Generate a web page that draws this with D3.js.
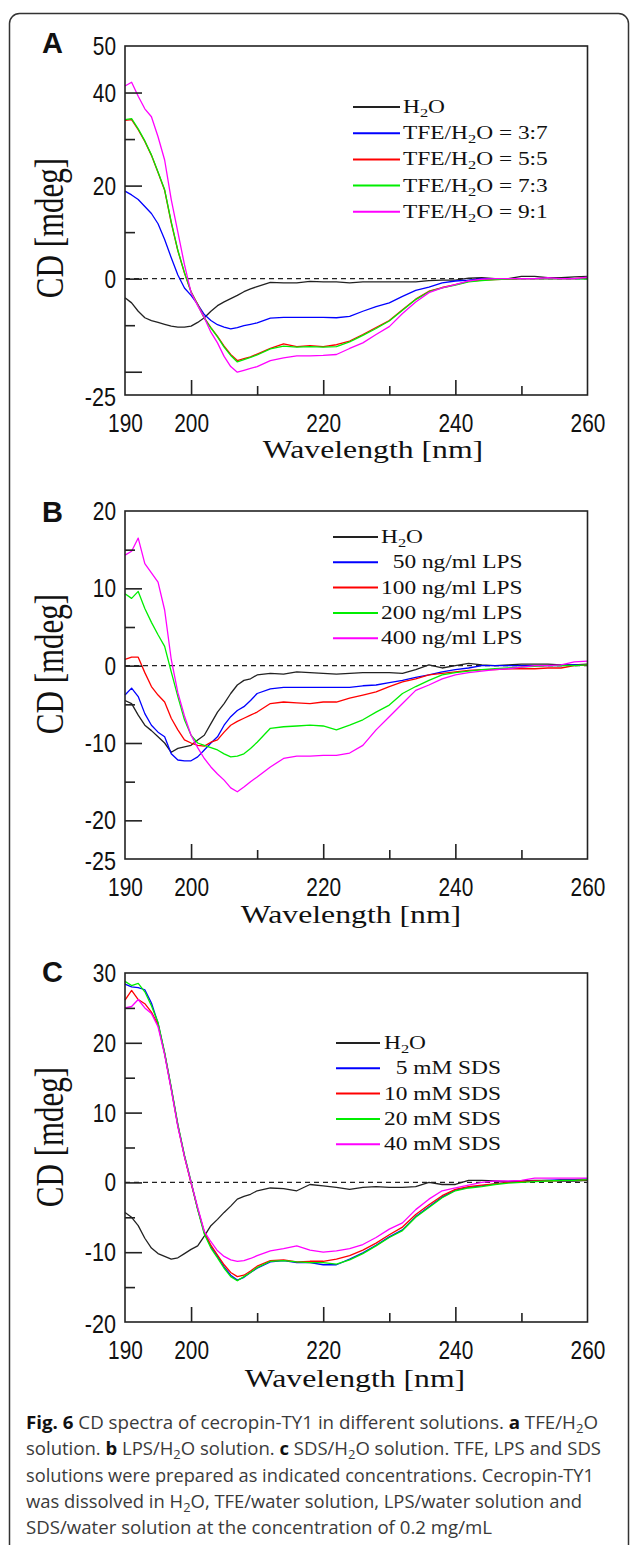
<!DOCTYPE html>
<html>
<head>
<meta charset="utf-8">
<script src="https://cdn.jsdelivr.net/npm/d3@7"></script>
<style>
  body { margin: 0; background: #fff; }
  svg { display: block; }
  .tick-label { font-family: 'Liberation Sans Narrow', 'Arial Narrow', 'Liberation Sans', sans-serif; font-size: 25px; fill: #111; }
  .serif { font-family: 'Liberation Serif', 'Times New Roman', serif; fill: #111; white-space: pre; }
  .letter { font-family: 'Liberation Sans', Arial, sans-serif; font-size: 29px; font-weight: bold; fill: #111; }
  .caption { font-family: 'Open Sans', 'Noto Sans', sans-serif; font-size: 18.4px; fill: #3a3a3a; white-space: pre; }
</style>
</head>
<body>
<script>
// Wavelength grid (nm), shared by all spectra
const wavelengths = [190, 191, 192, 193, 194, 195, 196, 197, 198, 199, 200, 201, 202, 203, 204, 205, 206, 207, 208, 209, 210,
  212, 214, 216, 218, 220, 222, 224, 226, 228, 230, 232, 234, 236, 238, 240, 242, 244, 246, 248, 250, 252, 254, 256, 258, 260];

// Panel A: TFE/H2O (mdeg)
const aH2O = [-4.1, -5.2, -7, -8.4, -9, -9.4, -9.8, -10.2, -10.4, -10.4, -10.2, -9.4, -8.4, -7, -5.8, -5, -4.3, -3.6, -2.8, -2.2, -1.7,
  -0.8, -0.9, -0.9, -0.6, -0.7, -0.7, -0.9, -0.7, -0.7, -0.7, -0.7, -0.7, -0.4, -0.3, -0.3, 0.1, 0.2, 0, 0, 0.5, 0.5, 0.2, 0.2, 0.4, 0.5];
const aTFE37 = [18.8, 18, 17, 15.5, 14, 11.8, 8.4, 4.5, 0.8, -2, -3.6, -5.5, -7.7, -9, -9.9, -10.4, -10.8, -10.5, -10.1, -9.8, -9.5,
  -8.5, -8.3, -8.3, -8.3, -8.3, -8.4, -8.1, -7, -6, -5.2, -3.8, -2.5, -1.8, -0.9, -0.5, -0.3, 0, 0, 0, 0, 0, 0, 0, 0, 0];
const aTFE55 = [34, 34.2, 32, 29.5, 26.5, 22.8, 19, 12, 6, 1.2, -2.8, -5.5, -8.4, -10.5, -12.4, -14.5, -16.3, -17.6, -17.2, -16.8, -16.2,
  -15, -14, -14.6, -14.4, -14.6, -14.2, -13.4, -12, -10.5, -9, -6.7, -4.4, -2.7, -1.9, -1.3, -0.6, -0.3, -0.2, -0.1, 0, 0, 0, 0, 0, 0.2];
const aTFE73 = [34.2, 34.4, 32.2, 29.6, 26.6, 22.9, 19.1, 12.2, 6.1, 1.3, -2.9, -5.6, -8.5, -10.6, -12.5, -14.7, -16.5, -17.9, -17.4, -16.9, -16.4,
  -15.1, -14.5, -14.7, -14.6, -14.7, -14.6, -13.6, -12.2, -10.7, -9.1, -6.8, -4.5, -2.8, -2, -1.4, -0.7, -0.4, -0.2, -0.1, 0, 0, 0, 0, 0, -0.1];
const aTFE91 = [41.4, 42.2, 39.2, 36.5, 34.8, 30.5, 25.5, 17, 10, 3, -3, -5.8, -8.4, -11.5, -13.8, -16.7, -18.9, -20.1, -19.7, -19.3, -18.9,
  -17.6, -17, -16.6, -16.6, -16.5, -16.3, -15, -13.8, -12, -10.3, -7.5, -5, -3, -2, -1.3, -0.5, -0.1, 0, 0, 0, 0, 0.2, 0, 0, 0.3];

// Panel B: LPS/H2O (mdeg)
const bH2O = [-4.5, -4.9, -6.4, -7.7, -8.4, -9.2, -10, -11.2, -10.7, -10.5, -10.3, -9.6, -9, -7.5, -6, -4.9, -3.6, -2.5, -1.9, -1.7, -1.2,
  -1, -1.1, -0.8, -0.9, -1, -1.1, -1, -0.9, -0.9, -0.9, -1, -0.5, 0.1, -0.3, 0, 0.3, 0.1, 0, 0.1, 0.2, 0.2, 0.2, 0.1, 0.1, 0.2];
const bLPS50 = [-3.8, -2.9, -4, -6.2, -7.7, -8.6, -9.2, -11.4, -12.2, -12.3, -12.3, -11.8, -10.9, -10, -9.2, -7.7, -6.6, -5.8, -5.3, -4.5, -3.6,
  -3, -2.8, -2.8, -2.8, -2.8, -2.8, -2.8, -2.6, -2.5, -2.2, -1.9, -1.5, -1.2, -0.8, -0.5, -0.3, 0, 0, 0, 0, 0, 0, 0, 0.1, 0.1];
const bLPS100 = [0.8, 1.1, 1.1, -0.9, -2.7, -3.8, -4.7, -6.8, -8.3, -9.6, -10, -10.3, -10.4, -9.9, -9.6, -8.6, -7.7, -7.2, -6.8, -6.4, -6,
  -4.9, -4.7, -4.8, -4.9, -4.7, -4.7, -4.2, -3.8, -3.4, -2.7, -2.1, -1.7, -1.2, -1, -0.8, -0.6, -0.5, -0.5, -0.4, -0.4, -0.4, -0.3, -0.3, 0, 0.1];
const bLPS200 = [9.3, 8.7, 9.6, 7.4, 5.6, 4, 2.5, -0.8, -4, -7, -9, -10, -10.3, -10.6, -10.9, -11.4, -11.8, -11.7, -11.4, -10.7, -9.9,
  -8.1, -7.9, -7.8, -7.7, -7.8, -8.3, -7.7, -7, -6, -5.1, -3.6, -2.7, -1.9, -1.2, -0.9, -0.7, -0.5, -0.4, -0.3, -0.2, -0.1, 0, 0, 0, 0.1];
const bLPS400 = [14.3, 14.8, 16.5, 13.2, 12, 10.8, 7.2, 0.8, -3.5, -6.5, -9, -10.6, -12, -13.1, -14, -14.8, -15.8, -16.3, -15.7, -15, -14.4,
  -13.1, -12, -11.7, -11.7, -11.6, -11.6, -11.3, -10.3, -8.3, -6.6, -4.9, -3.2, -2.5, -1.7, -1.2, -0.9, -0.7, -0.5, -0.4, -0.2, 0, 0, 0.1, 0.5, 0.6];

// Panel C: SDS/H2O (mdeg)
const cH2O = [-4.3, -5, -6.2, -8, -9.4, -10.2, -10.6, -11, -10.8, -10.2, -9.6, -9.1, -7.7, -6.2, -5.3, -4.3, -3.4, -2.4, -2, -1.7, -1.2,
  -0.8, -0.9, -1.2, -0.3, -0.5, -0.7, -1, -0.7, -0.6, -0.7, -0.7, -0.6, 0, -0.3, -0.3, 0.3, 0.3, 0.2, 0.1, 0.2, 0.3, 0.3, 0.2, 0.2, 0.3];
const cSDS5 = [28.4, 28, 27.9, 27.6, 25.7, 22.8, 18.5, 13.5, 8.2, 3.8, 0, -3.8, -7.2, -9.2, -10.6, -12.1, -13.3, -14, -13.6, -12.9, -12.3,
  -11.4, -11.2, -11.5, -11.5, -11.8, -11.8, -11, -10.1, -9, -7.8, -6.8, -4.9, -3.5, -2.1, -1.1, -0.7, -0.5, -0.2, 0, 0.1, 0.2, 0.3, 0.4, 0.4, 0.5];
const cSDS10 = [26.1, 27.5, 26.2, 25.6, 24.4, 22.6, 18.4, 13.4, 8.1, 3.7, -0.1, -3.8, -7.1, -9, -10.4, -11.8, -12.9, -13.5, -13.3, -12.7, -12,
  -11.2, -11.1, -11.4, -11.3, -11.3, -11, -10.5, -9.7, -8.7, -7.5, -6.4, -4.6, -3.2, -1.9, -1, -0.6, -0.4, -0.2, 0, 0.1, 0.2, 0.2, 0.3, 0.3, 0.4];
const cSDS20 = [28.8, 28.2, 28.5, 27.3, 25.3, 22.9, 18.6, 13.6, 8.3, 3.9, 0.1, -3.9, -7.4, -9.4, -10.8, -12.3, -13.5, -14.1, -13.5, -12.9, -12.2,
  -11.3, -11.2, -11.4, -11.5, -11.5, -11.7, -11.1, -10.2, -9.1, -7.9, -6.9, -5, -3.6, -2.2, -1.2, -0.8, -0.6, -0.3, -0.1, 0, 0.1, 0.2, 0.3, 0.3, 0.4];
const cSDS40 = [25, 25.2, 26.2, 25, 24.2, 22.3, 18.3, 13.3, 8, 3.7, 0, -3.6, -7, -8.5, -9.8, -10.6, -11.1, -11.3, -11.2, -10.9, -10.5,
  -9.8, -9.5, -9.1, -9.7, -10, -9.8, -9.5, -8.9, -7.9, -6.7, -5.8, -3.9, -2.4, -1.2, -0.8, -0.4, 0, 0.2, 0.2, 0.3, 0.6, 0.6, 0.6, 0.6, 0.6];

// Legend labels
const aLabels = ['H₂O', 'TFE/H₂O = 3:7', 'TFE/H₂O = 5:5', 'TFE/H₂O = 7:3', 'TFE/H₂O = 9:1'];
const bLabels = ['H₂O', '\u00a0\u00a050 ng/ml LPS', '100 ng/ml LPS', '200 ng/ml LPS', '400 ng/ml LPS'];
const cLabels = ['H₂O', '\u00a0\u00a05 mM SDS', '10 mM SDS', '20 mM SDS', '40 mM SDS'];

// Axis ticks
const xMajor = [200, 220, 240];
const xMinor = [210, 230, 250];
const xLabels = [190, 200, 220, 240, 260];
const aYMajor = [40, 20, 0, -20];
const aYMinor = [30, 10, -10];
const aYLabels = [50, 40, 20, 0, -25];
const bYMajor = [10, 0, -10, -20];
const bYMinor = [15, 5, -5, -15];
const bYLabels = [20, 10, 0, -10, -20, -25];
const cYMajor = [20, 10, 0, -10];
const cYMinor = [25, 15, 5, -5, -15];
const cYLabels = [30, 20, 10, 0, -10, -20];

// Caption (*bold*, ₂ = subscript)
const captionLines = [
  '*Fig. 6* CD spectra of cecropin-TY1 in different solutions. *a* TFE/H₂O',
  'solution. *b* LPS/H₂O solution. *c* SDS/H₂O solution. TFE, LPS and SDS',
  'solutions were prepared as indicated concentrations. Cecropin-TY1',
  'was dissolved in H₂O, TFE/water solution, LPS/water solution and',
  'SDS/water solution at the concentration of 0.2 mg/mL',
];
const captionWidths = [572, 575, 568, 556, 466];

const seriesColors = ['#222222', '#0000ff', '#ff0000', '#00ee00', '#ff00ff'];

const width = 630;
const height = 1545;
const plotLeft = 125;
const plotRight = 587.5;

const panels = [
  { letter: 'A', letterY: 53, series: [aH2O, aTFE37, aTFE55, aTFE73, aTFE91], labels: aLabels,
    yDomain: [-25, 50], top: 46, bottom: 395, yMajor: aYMajor, yMinor: aYMinor, yLabels: aYLabels,
    legend: { x1: 353, x2: 400, tx: 403, y0: 107, dy: 26.2 }, xTitle: [373, 458], yTitle: [50, 228] },
  { letter: 'B', letterY: 522, series: [bH2O, bLPS50, bLPS100, bLPS200, bLPS400], labels: bLabels,
    yDomain: [-25, 20], top: 511, bottom: 859, yMajor: bYMajor, yMinor: bYMinor, yLabels: bYLabels,
    legend: { x1: 333, x2: 378, tx: 381, y0: 537, dy: 25.3 }, xTitle: [351, 923], yTitle: [50, 664] },
  { letter: 'C', letterY: 982, series: [cH2O, cSDS5, cSDS10, cSDS20, cSDS40], labels: cLabels,
    yDomain: [-20, 30], top: 973, bottom: 1322, yMajor: cYMajor, yMinor: cYMinor, yLabels: cYLabels,
    legend: { x1: 336, x2: 380, tx: 384, y0: 1043, dy: 25.3 }, xTitle: [355, 1387], yTitle: [50, 1137] },
];

// Write text that may hold *bold* parts and ₂ subscripts
function addRich(sel, str, shift) {
  let down = false;
  str.split('*').forEach((chunk, ci) => {
    chunk.split('₂').forEach((piece, pi) => {
      if (pi > 0) {
        sel.append('tspan').text('2').attr('font-size', '70%').attr('dy', down ? 0 : shift);
        down = true;
      }
      if (piece === '') return;
      const ts = sel.append('tspan').text(piece);
      if (down) { ts.attr('dy', -shift); down = false; }
      if (ci % 2 === 1) ts.attr('font-weight', 'bold').attr('fill', '#111');
    });
  });
}

// Narrow tick digits, as in the figure
function narrow(sel) {
  sel.attr('textLength', (d) => {
    const s = String(d);
    return s.replace('-', '').length * 11.6 + (s[0] === '-' ? 8 : 0);
  })
    .attr('lengthAdjust', 'spacingAndGlyphs');
}

const svg = d3.select('body')
  .append('svg')
    .attr('width', width)
    .attr('height', height);

// Outer frame
svg.append('rect')
    .attr('x', 9.5)
    .attr('y', 13.5)
    .attr('width', 619)
    .attr('height', 1600)
    .attr('rx', 10)
    .attr('fill', 'none')
    .attr('stroke', '#333')
    .attr('stroke-width', 1.5);

const x = d3.scaleLinear().domain([190, 260]).range([plotLeft, plotRight]);

function drawPanel(p) {
  const y = d3.scaleLinear().domain(p.yDomain).range([p.bottom, p.top]);
  const g = svg.append('g');

  // zero line
  g.append('line')
      .attr('x1', plotLeft)
      .attr('x2', plotRight)
      .attr('y1', y(0))
      .attr('y2', y(0))
      .attr('stroke', '#222')
      .attr('stroke-width', 1.3)
      .attr('stroke-dasharray', '5,4');

  // spectra
  const line = d3.line()
      .x((d, i) => x(wavelengths[i]))
      .y((d) => y(d));

  g.selectAll('path.spec')
      .data(p.series)
    .enter().append('path')
      .attr('class', 'spec')
      .attr('d', (d) => line(d))
      .attr('fill', 'none')
      .attr('stroke', (d, i) => seriesColors[i])
      .attr('stroke-width', 1.3)
      .attr('stroke-linejoin', 'round');

  // plot box
  g.append('rect')
      .attr('x', plotLeft)
      .attr('y', p.top)
      .attr('width', plotRight - plotLeft)
      .attr('height', p.bottom - p.top)
      .attr('fill', 'none')
      .attr('stroke', '#222')
      .attr('stroke-width', 1.6);

  // y ticks (inside)
  const yTicks = (vals, len) => {
    g.append('g')
        .attr('transform', `translate(${plotLeft},0)`)
        .call(d3.axisLeft(y).tickValues(vals).tickSize(-len).tickFormat(''))
        .call((s) => s.select('.domain').remove())
        .selectAll('line').attr('stroke', '#222').attr('stroke-width', 1.6);
  };
  yTicks(p.yMajor, 17);
  yTicks(p.yMinor, 10);

  const yLab = g.append('g')
      .attr('transform', `translate(${plotLeft},0)`)
      .call(d3.axisLeft(y).tickValues(p.yLabels).tickSize(0).tickPadding(9).tickFormat((d) => String(d)))
      .call((s) => s.select('.domain').remove());
  yLab.selectAll('text')
      .attr('class', 'tick-label')
      .attr('dy', (d) => d === p.yDomain[0] ? '0.42em' : '0.34em')
      .call(narrow);

  // x ticks (inside)
  const xTicks = (vals, len) => {
    g.append('g')
        .attr('transform', `translate(0,${p.bottom})`)
        .call(d3.axisBottom(x).tickValues(vals).tickSize(-len).tickFormat(''))
        .call((s) => s.select('.domain').remove())
        .selectAll('line').attr('stroke', '#222').attr('stroke-width', 1.6);
  };
  xTicks(xMajor, 15);
  xTicks(xMinor, 9);

  g.append('g')
      .attr('transform', `translate(0,${p.bottom})`)
      .call(d3.axisBottom(x).tickValues(xLabels).tickSize(0).tickPadding(19).tickFormat((d) => String(d)))
      .call((s) => s.select('.domain').remove())
    .selectAll('text')
      .attr('class', 'tick-label')
      .call(narrow);

  // axis titles
  g.append('text')
      .attr('class', 'serif')
      .attr('font-size', 25)
      .attr('text-anchor', 'middle')
      .attr('transform', `translate(${p.xTitle[0]},${p.xTitle[1]}) scale(1.27,1)`)
      .text('Wavelength [nm]');

  g.append('text')
      .attr('class', 'serif')
      .attr('font-size', 31)
      .attr('text-anchor', 'middle')
      .attr('dominant-baseline', 'central')
      .attr('transform', `translate(${p.yTitle[0]},${p.yTitle[1]}) scale(1.3,1) rotate(-90)`)
      .text('CD [mdeg]');

  // panel letter
  g.append('text')
      .attr('class', 'letter')
      .attr('x', 42)
      .attr('y', p.letterY)
      .text(p.letter);

  // legend
  const lg = p.legend;
  p.labels.forEach((lab, i) => {
    const ly = lg.y0 + i * lg.dy;
    g.append('line')
        .attr('x1', lg.x1)
        .attr('x2', lg.x2)
        .attr('y1', ly)
        .attr('y2', ly)
        .attr('stroke', seriesColors[i])
        .attr('stroke-width', 2);
    const t = g.append('text')
        .attr('class', 'serif')
        .attr('font-size', 18)
        .attr('transform', `translate(${lg.tx},${ly + 6}) scale(1.3,1)`);
    addRich(t, lab, 4);
  });
}

panels.forEach(drawPanel);

// Caption
captionLines.forEach((ln, i) => {
  const t = svg.append('text')
      .attr('class', 'caption')
      .attr('x', 26)
      .attr('y', 1429 + i * 26.3)
      .attr('textLength', captionWidths[i])
      .attr('lengthAdjust', 'spacingAndGlyphs');
  addRich(t, ln, 4);
});
</script>
</body>
</html>
